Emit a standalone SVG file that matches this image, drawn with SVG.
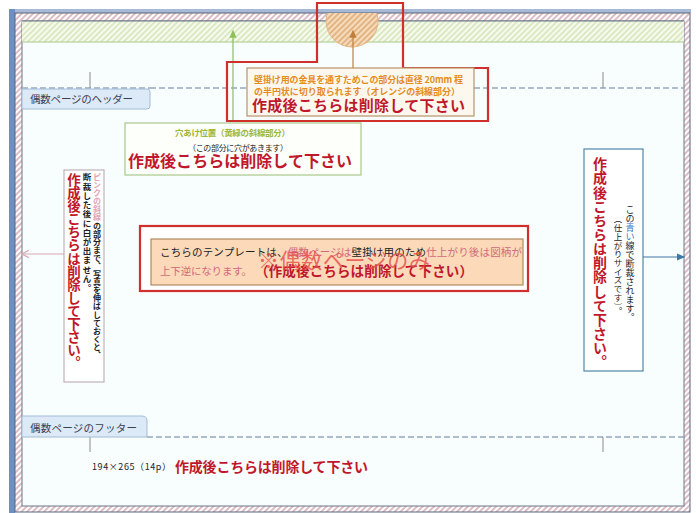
<svg xmlns="http://www.w3.org/2000/svg" width="696" height="513" viewBox="0 0 696 513">
<style>
.jp{font-family:"Noto Sans CJK JP","Noto Sans",sans-serif}
.red{fill:#c0182a;font-weight:bold}
.blk{fill:#222}
.tab{fill:#dce9f6;stroke:#a3bcd8;stroke-width:1}
.tabt{fill:#3a4050;font-size:10.5px}
.dash{stroke:#95a7bb;stroke-width:1.6;stroke-dasharray:6 3;fill:none}
.tick{stroke:#8c8c8c;stroke-width:1}
.vt{writing-mode:vertical-rl;text-orientation:mixed}
</style>
<defs>
<pattern id="pinkH" width="4" height="4" patternUnits="userSpaceOnUse" patternTransform="rotate(45)">
<rect width="4" height="4" fill="#ffffff"/><line x1="1" y1="0" x2="1" y2="4" stroke="#c899a6" stroke-width="1.3"/></pattern>
<pattern id="greenH" width="4" height="4" patternUnits="userSpaceOnUse" patternTransform="rotate(45)">
<rect width="4" height="4" fill="#f6fbee"/><line x1="1" y1="0" x2="1" y2="4" stroke="#c9dca6" stroke-width="1.2"/></pattern>
<pattern id="orangeH" width="4" height="4" patternUnits="userSpaceOnUse" patternTransform="rotate(45)">
<rect width="4" height="4" fill="#f7dcbc"/><line x1="1" y1="0" x2="1" y2="4" stroke="#d59a5e" stroke-width="1.2"/></pattern>
<clipPath id="pageClip"><rect x="15" y="13" width="675" height="499"/></clipPath>
<marker id="arrG" markerWidth="8" markerHeight="8" refX="4" refY="4" orient="auto"><path d="M0,1 L7,4 L0,7 z" fill="#8fbf5a"/></marker>
<marker id="arrO" markerWidth="8" markerHeight="8" refX="4" refY="4" orient="auto"><path d="M0,1 L7,4 L0,7 z" fill="#c0803c"/></marker>
<marker id="arrB" markerWidth="8" markerHeight="8" refX="6" refY="4" orient="auto"><path d="M0,1 L7,4 L0,7 z" fill="#3f78a6"/></marker>
<marker id="arrP" markerWidth="8" markerHeight="8" refX="5" refY="4" orient="auto"><path d="M0,1 L6,4 L0,7" fill="none" stroke="#d6aab4" stroke-width="1"/></marker>
</defs>
<rect width="696" height="513" fill="#ffffff"/>
<g id="frame">
<rect x="9" y="9" width="682" height="4" fill="#a6b9d6"/>
<rect x="9" y="9" width="6" height="504" fill="#6f8fc2"/>
<rect x="15" y="13" width="675" height="499" fill="url(#pinkH)" stroke="#5b6678" stroke-width="1"/>
<rect x="22" y="21" width="662" height="485" fill="#f8fdfd" stroke="#6a7888" stroke-width="1"/>
<rect x="22" y="21" width="662" height="21" fill="url(#greenH)"/>
<line x1="22" y1="42" x2="684" y2="42" stroke="#a9c98a" stroke-width="1.2"/>
<line x1="22" y1="21" x2="684" y2="21" stroke="#6a7888" stroke-width="1"/>
<circle cx="352" cy="21" r="26" fill="url(#orangeH)" stroke="#e4b684" stroke-width="1" clip-path="url(#pageClip)"/>
</g>
<g id="header">
<line class="dash" x1="150" y1="88" x2="684" y2="88"/>
<line class="dash" x1="22" y1="88" x2="150" y2="88"/>
<line class="tick" x1="90" y1="72" x2="90" y2="88"/>
<line class="tick" x1="603" y1="72" x2="603" y2="88"/>
<path class="tab" d="M22,89 H147 Q150,89 150,92 V106 Q150,109 147,109 H22 Z"/>
<text class="jp tabt" x="30" y="103" textLength="103">偶数ページのヘッダー</text>
</g>
<g id="footer">
<line class="dash" x1="147" y1="437" x2="684" y2="437"/>
<line class="tick" x1="90" y1="437" x2="90" y2="452"/>
<line class="tick" x1="603" y1="437" x2="603" y2="452"/>
<path class="tab" d="M22,437 V416 H142 Q147,416 147,421 V437 Z"/>
<text class="jp tabt" x="30" y="432" textLength="107">偶数ページのフッター</text>
<text class="jp blk" x="92" y="470" font-size="9" textLength="79">194×265（14p）</text>
<text class="jp red" x="175" y="472" font-size="14" textLength="193">作成後こちらは削除して下さい</text>
</g>
<g id="connectors" fill="none">
<line x1="233" y1="122" x2="233" y2="33" stroke="#8fbf5a" stroke-width="1.2" marker-end="url(#arrG)"/>
<line x1="353" y1="68" x2="353" y2="33" stroke="#c0803c" stroke-width="1.2" marker-end="url(#arrO)"/>
<line x1="64" y1="254" x2="23" y2="254" stroke="#d6aab4" stroke-width="1.2" marker-end="url(#arrP)"/>
<line x1="643" y1="257" x2="684" y2="257" stroke="#3f78a6" stroke-width="1.2" marker-end="url(#arrB)"/>
</g>
<g id="top-note">
<path d="M317,3 H403 V68 H488 V121 H227 V62 H317 Z" fill="none" stroke="#d0302c" stroke-width="2.2"/>
<rect x="247" y="68" width="227" height="48" fill="#fdf8ee" stroke="#b8956a" stroke-width="1.2"/>
<text class="jp" x="254" y="83" font-size="9" fill="#e48c1c" font-weight="bold" textLength="209">壁掛け用の金具を通すためこの部分は直径 20mm 程</text>
<text class="jp" x="254" y="95" font-size="9" fill="#e48c1c" font-weight="bold" textLength="206">の半円状に切り取られます（オレンジの斜線部分）</text>
<text class="jp red" x="252" y="111" font-size="15" textLength="213">作成後こちらは削除して下さい</text>
</g>
<g id="green-note">
<rect x="125" y="123" width="236" height="52" fill="#fdfffb" stroke="#a9c98a" stroke-width="1.2"/>
<text class="jp" x="175" y="136" font-size="8.5" fill="#9ab83a" font-weight="bold" textLength="115">穴あけ位置（黄緑の斜線部分）</text>
<text class="jp blk" x="188" y="151" font-size="8" textLength="100">（この部分に穴があきます）</text>
<text class="jp red" x="128" y="167" font-size="16" textLength="224">作成後こちらは削除して下さい</text>
</g>
<g id="left-note">
<rect x="64" y="170" width="40" height="212" fill="#ffffff" stroke="#b3a3ab" stroke-width="1"/>
<text class="jp vt red" x="74" y="173" font-size="13.5" textLength="197">作成後こちらは削除して下さい。</text>
<text class="jp vt blk" x="87" y="173" font-size="8.5" font-weight="bold" textLength="119">断裁した後に白が出ません。</text>
<text class="jp vt blk" x="97" y="173" font-size="8" font-weight="bold" textLength="186"><tspan fill="#e2a2b4">ピンクの斜線</tspan>の部分まで、写真を伸ばしておくと、</text>
</g>
<g id="right-note">
<rect x="584" y="149" width="59" height="222" fill="#ffffff" stroke="#4f86a8" stroke-width="1.2"/>
<text class="jp vt red" x="600" y="157" font-size="14" textLength="212">作成後こちらは削除して下さい。</text>
<text class="jp vt blk" x="630" y="205" font-size="9" textLength="117">この<tspan fill="#3b78c2">青い</tspan>線で断裁されます。</text>
<text class="jp vt blk" x="618" y="215" font-size="8.5" textLength="100">（仕上がりサイズです）。</text>
</g>
<g id="center-note">
<rect x="140" y="226" width="388" height="65" fill="#ffffff" stroke="#d0302c" stroke-width="2.2"/>
<rect x="151" y="239" width="372" height="46" fill="#fcd9b8" stroke="#b08a60" stroke-width="1.2"/>
<text class="jp blk" x="160" y="256" font-size="10.5" textLength="362">こちらのテンプレートは、<tspan fill="#d06a7c">偶数ページは</tspan>壁掛け用のため<tspan fill="#d06a7c">仕上がり後は図柄が</tspan></text>
<text class="jp" x="160" y="275" font-size="10.5" fill="#d06a7c" textLength="92">上下逆になります。</text>
<text class="jp red" x="255" y="276" font-size="13.5" textLength="218">（作成後こちらは削除して下さい）</text>
<text class="jp" x="258" y="268" font-size="21" fill="#e54848" fill-opacity="0.8" textLength="172">※偶数ページのみ</text>
</g>
</svg>
